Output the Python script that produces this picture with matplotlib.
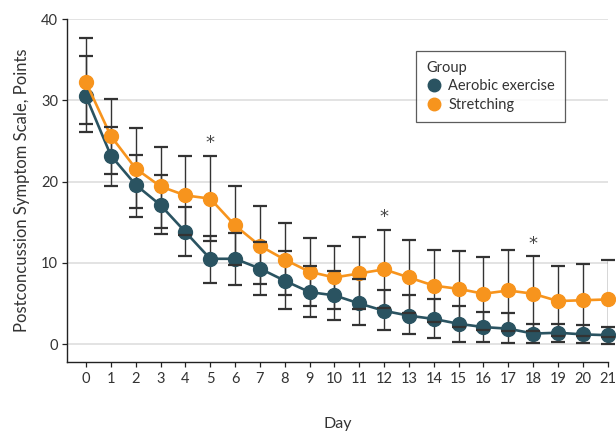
import matplotlib
matplotlib.use("Agg")
import matplotlib.pyplot as plt
import numpy as np

plt.rcParams['font.family'] = ['Lato', 'DejaVu Sans']

days = list(range(22))
aerobic_mean = [30.5, 23.2, 19.6, 17.1, 13.8, 10.5, 10.5, 9.3, 7.8, 6.4, 6.0, 5.0,
                4.1, 3.5, 3.1, 2.5, 2.1, 1.9, 1.3, 1.4, 1.2, 1.1]
aerobic_upper = [35.4, 26.7, 23.3, 20.8, 16.9, 13.3, 13.7, 12.6, 11.4, 9.6, 9.0, 8.0,
                 6.6, 6.0, 5.5, 4.7, 3.9, 3.8, 2.5, 2.5, 2.4, 2.1]
aerobic_lower = [26.1, 19.4, 15.7, 13.6, 10.8, 7.5, 7.3, 6.0, 4.3, 3.3, 3.0, 2.3,
                 1.7, 1.3, 0.8, 0.3, 0.25, 0.1, 0.2, 0.3, 0.1, 0.0]
stretch_mean = [32.2, 25.6, 21.6, 19.4, 18.3, 17.9, 14.6, 12.1, 10.4, 8.9, 8.2, 8.7,
                9.2, 8.2, 7.2, 6.8, 6.2, 6.6, 6.2, 5.3, 5.4, 5.5]
stretch_upper = [37.7, 30.2, 26.6, 24.3, 23.1, 23.2, 19.5, 17.0, 14.9, 13.1, 12.1, 13.2,
                 14.1, 12.8, 11.6, 11.4, 10.7, 11.6, 10.8, 9.6, 9.9, 10.3]
stretch_lower = [27.1, 20.9, 16.7, 14.3, 13.4, 12.7, 9.7, 7.4, 6.1, 4.7, 4.3, 4.3,
                 4.5, 3.8, 2.7, 2.1, 1.7, 1.6, 1.6, 1.0, 1.0, 0.9]
significant_days = [5, 12, 18]
series_names = ["Aerobic exercise", "Stretching"]
teal = "#2a5361"
orange = "#f7941d"

fig = plt.figure(figsize=(6.16, 4.32), dpi=100)
ax = fig.add_axes([0.1088, 0.162, 0.9865 - 0.1088, 0.956 - 0.162])

for y in [0, 10, 20, 30, 40]:
    ax.axhline(y, color="#e0e0e0", lw=1.3, zorder=0)

def draw(mean, upper, lower, color, z):
    mean = np.array(mean); upper = np.array(upper); lower = np.array(lower)
    _, caps, bars = ax.errorbar(days, mean, yerr=[mean - lower, upper - mean], fmt='none',
                                ecolor="#333333", elinewidth=1.0, capsize=4.8,
                                capthick=1.6, zorder=z)
    for c in caps:
        c.set_color(color)
        c.set_zorder(z + 3)
        c.set_clip_on(False)
    for b in bars:
        b.set_zorder(z)
    ax.plot(days, mean, color=color, lw=1.9, marker='o', markersize=10,
            zorder=z + 1, clip_on=False)

draw(aerobic_mean, aerobic_upper, aerobic_lower, teal, 2)
draw(stretch_mean, stretch_upper, stretch_lower, orange, 2.5)

for d in significant_days:
    ax.annotate("*", (d, stretch_upper[d]), xytext=(0, 9), textcoords="offset points",
                ha="center", va="center", fontsize=13, color="#444444",
                family=["DejaVu Sans"])

ax.set_xlim(-0.765, 21)
ax.set_ylim(-2.2, 40)
ax.set_xticks(days)
ax.set_yticks([0, 10, 20, 30, 40])
for s in ["top", "right"]:
    ax.spines[s].set_visible(False)
for s in ["left", "bottom"]:
    ax.spines[s].set_color("#222222")
    ax.spines[s].set_linewidth(1.0)
ax.tick_params(axis="both", direction="out", length=3.5, width=0.9, color="#222222",
               labelsize=10.5, labelcolor="#333333")
ax.tick_params(axis="y", pad=3)
ax.tick_params(axis="x", pad=4)

ax.set_xlabel("Day", fontsize=11.5, color="#333333", labelpad=22)
ax.set_ylabel("Postconcussion Symptom Scale, Points", fontsize=12, color="#333333", labelpad=8)

from matplotlib.lines import Line2D
handles = [Line2D([], [], color=teal, marker='o', markersize=9, lw=0),
           Line2D([], [], color=orange, marker='o', markersize=9, lw=0)]
leg = ax.legend(handles, series_names, title="Group", loc="upper left",
                bbox_to_anchor=(0.632, 0.929), frameon=True, fancybox=False,
                fontsize=10.5, title_fontsize=10.5, handletextpad=0.5,
                handlelength=1.0, borderpad=0.7, labelspacing=0.3, alignment="left")
leg.get_frame().set_edgecolor("#333333")
leg.get_frame().set_linewidth(0.9)
leg.get_title().set_color("#333333")
for t in leg.get_texts():
    t.set_color("#333333")

fig.savefig("out.png", dpi=100)
